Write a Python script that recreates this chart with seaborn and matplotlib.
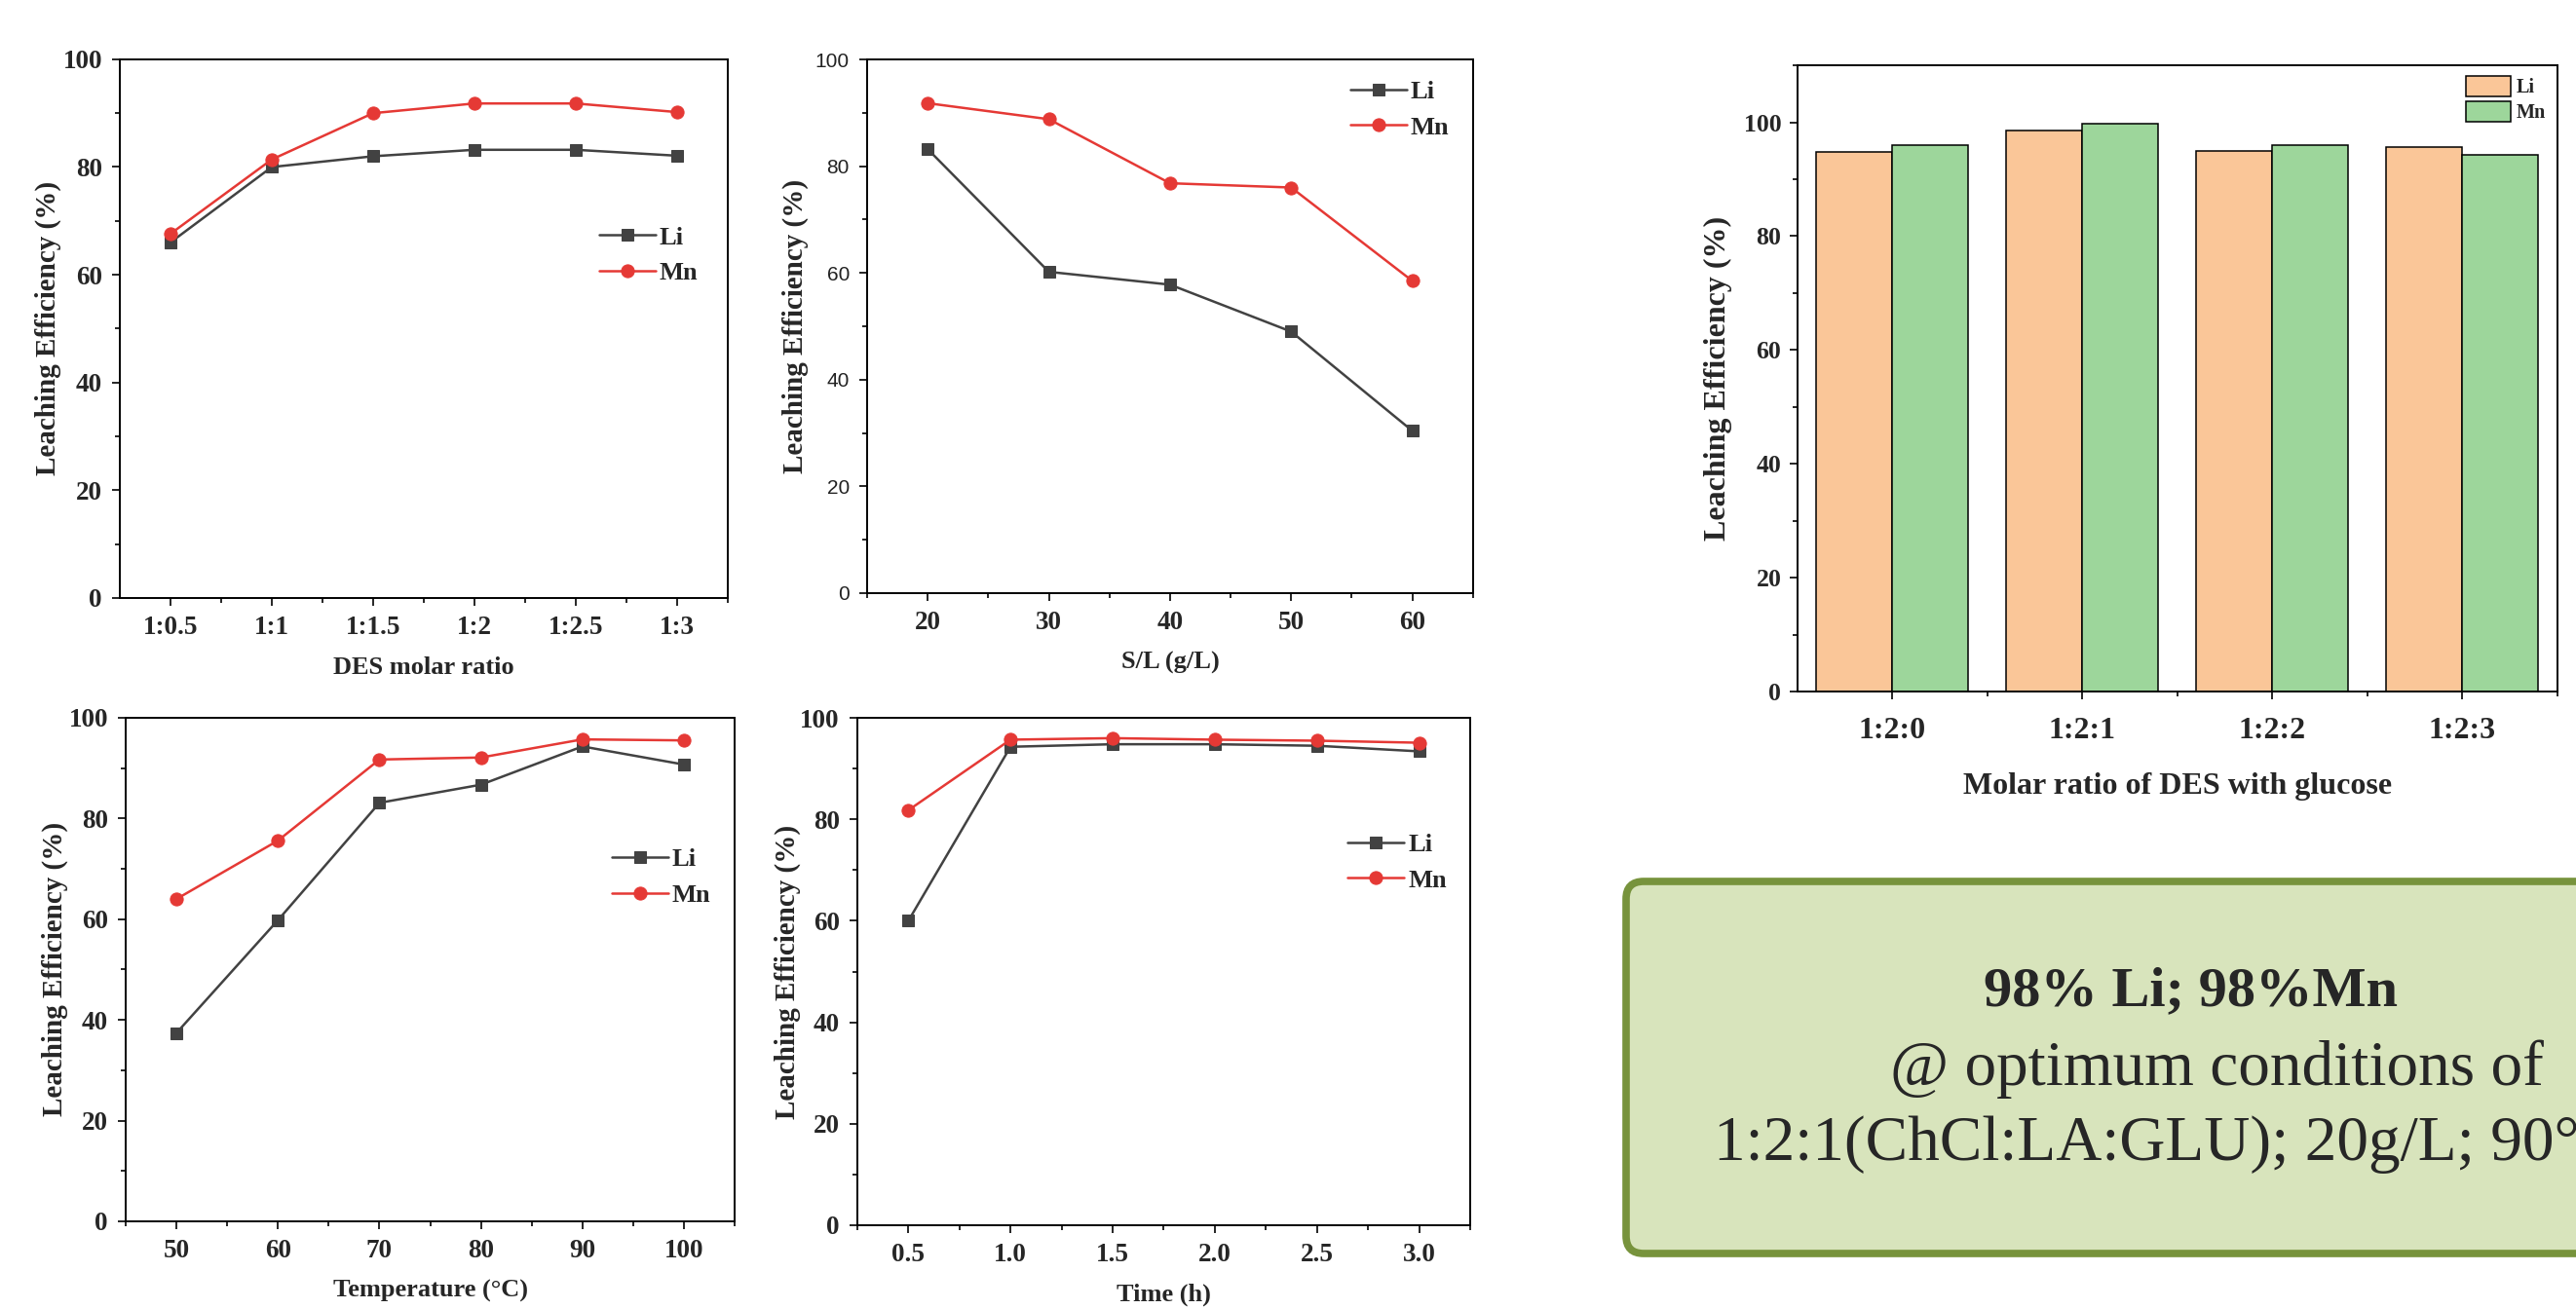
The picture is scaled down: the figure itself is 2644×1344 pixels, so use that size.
import matplotlib
matplotlib.use("Agg")
import matplotlib.pyplot as plt
import matplotlib.ticker as mticker
from matplotlib.patches import FancyBboxPatch
from matplotlib.transforms import IdentityTransform
import pandas as pd
import seaborn as sns

""" Données """
des_ratio = ["1:0.5", "1:1", "1:1.5", "1:2", "1:2.5", "1:3"]
des_li = [66.0, 80.0, 82.0, 83.2, 83.2, 82.1]
des_mn = [67.6, 81.4, 90.0, 91.8, 91.8, 90.2]

sl_ratio = [20, 30, 40, 50, 60]
sl_li = [83.2, 60.2, 57.8, 49.0, 30.4]
sl_mn = [91.8, 88.8, 76.8, 76.0, 58.5]

temperature = [50, 60, 70, 80, 90, 100]
temp_li = [37.4, 59.8, 83.1, 86.7, 94.3, 90.7]
temp_mn = [64.0, 75.6, 91.7, 92.1, 95.7, 95.5]

time_h = [0.5, 1.0, 1.5, 2.0, 2.5, 3.0]
time_li = [60.0, 94.3, 94.8, 94.8, 94.5, 93.4]
time_mn = [81.8, 95.7, 96.0, 95.7, 95.5, 95.1]

glucose_ratio = ["1:2:0", "1:2:1", "1:2:2", "1:2:3"]
glucose_li = [94.8, 98.5, 94.9, 95.6]
glucose_mn = [96.0, 99.8, 96.0, 94.2]

LI_COLOR = "#424242"
MN_COLOR = "#e53935"
BAR_COLORS = ["#fac698", "#9dd69b"]

""" Style """
sns.set_style("ticks")
plt.rcParams['font.family'] = ['Liberation Serif', 'DejaVu Serif']
plt.rcParams['font.weight'] = 'bold'
plt.rcParams['axes.labelweight'] = 'bold'
plt.rcParams['axes.linewidth'] = 1.4
plt.rcParams['axes.edgecolor'] = 'black'

fig = plt.figure(figsize=(26.44, 13.44), dpi=100)


def line_panel(rect, x, li, mn, xlabel, legend_pos, ylab_x, sans_y=False):
    ax = fig.add_axes(rect)
    sns.lineplot(x=x, y=li, ax=ax, color=LI_COLOR, marker='s', markersize=8.5,
                 markeredgecolor=LI_COLOR, linewidth=1.8, label='Li', sort=False)
    sns.lineplot(x=x, y=mn, ax=ax, color=MN_COLOR, marker='o', markersize=9.5,
                 markeredgecolor=MN_COLOR, linewidth=1.8, label='Mn', sort=False)
    ax.set_ylim(0, 100)
    ax.yaxis.set_major_locator(mticker.MultipleLocator(20))
    ax.yaxis.set_minor_locator(mticker.MultipleLocator(10))
    ax.set_xlabel(xlabel, fontsize=19, labelpad=12)
    ax.set_ylabel('Leaching Efficiency (%)', fontsize=21)
    ax.yaxis.set_label_coords(ylab_x, 0.5)
    ax.tick_params(which='both', direction='out', top=False, right=False, width=1.4)
    ax.tick_params(which='major', length=6, labelsize=19.5, pad=7)
    ax.tick_params(which='minor', length=3.5)
    for s in ax.spines.values():
        s.set_visible(True)
        s.set_linewidth(1.4)
    if sans_y:
        for lab in ax.get_yticklabels():
            lab.set_fontfamily('Liberation Sans')
            lab.set_fontweight('normal')
            lab.set_fontsize(15)
            lab.set_color('#222222')
    ax.legend(loc='center left', bbox_to_anchor=legend_pos, frameon=False,
              fontsize=19, handlelength=2.2, handletextpad=0.15,
              borderpad=0, borderaxespad=0, labelspacing=0.5)
    return ax


""" Rapport molaire DES """
ax1 = line_panel([0.0465, 0.5432, 0.2360, 0.4115], des_ratio, des_li, des_mn,
                 'DES molar ratio', (0.788, 0.636), -0.096)
ax1.set_xlim(-0.5, 5.5)
ax1.xaxis.set_minor_locator(mticker.FixedLocator([0.5, 1.5, 2.5, 3.5, 4.5, 5.5]))

""" Rapport S/L """
ax2 = line_panel([0.3366, 0.5469, 0.2352, 0.4077], sl_ratio, sl_li, sl_mn,
                 'S/L (g/L)', (0.797, 0.906), -0.096, sans_y=True)
ax2.set_xlim(15, 65)
ax2.xaxis.set_major_locator(mticker.MultipleLocator(10))
ax2.xaxis.set_minor_locator(mticker.MultipleLocator(5))

""" Température """
ax3 = line_panel([0.0488, 0.0670, 0.2364, 0.3847], temperature, temp_li, temp_mn,
                 'Temperature (°C)', (0.798, 0.683), -0.095)
ax3.set_xlim(45, 105)
ax3.xaxis.set_major_locator(mticker.MultipleLocator(10))
ax3.xaxis.set_minor_locator(mticker.MultipleLocator(5))

""" Temps """
ax4 = line_panel([0.3328, 0.0640, 0.2379, 0.3876], time_h, time_li, time_mn,
                 'Time (h)', (0.80, 0.715), -0.092)
ax4.set_xlim(0.25, 3.25)
ax4.xaxis.set_major_locator(mticker.MultipleLocator(0.5))
ax4.xaxis.set_minor_locator(mticker.MultipleLocator(0.25))
ax4.xaxis.set_major_formatter(mticker.FormatStrFormatter('%.1f'))

""" Glucose : barres """
bars = pd.DataFrame({
    'ratio': glucose_ratio * 2,
    'metal': ['Li'] * len(glucose_ratio) + ['Mn'] * len(glucose_ratio),
    'eff': glucose_li + glucose_mn,
})
ax5 = fig.add_axes([0.6978, 0.4717, 0.2950, 0.4784])
sns.barplot(data=bars, x='ratio', y='eff', hue='metal', palette=BAR_COLORS,
            saturation=1, width=0.8, gap=0, errorbar=None,
            edgecolor='black', linewidth=1.1, ax=ax5)
ax5.set_xlim(-0.5, 3.5)
ax5.set_ylim(0, 110)
ax5.yaxis.set_major_locator(mticker.MultipleLocator(20))
ax5.yaxis.set_minor_locator(mticker.MultipleLocator(10))
ax5.xaxis.set_minor_locator(mticker.FixedLocator([0.5, 1.5, 2.5, 3.5]))
ax5.set_xlabel('Molar ratio of DES with glucose', fontsize=23, labelpad=20)
ax5.set_ylabel('Leaching Efficiency (%)', fontsize=23)
ax5.yaxis.set_label_coords(-0.086, 0.5)
ax5.tick_params(which='both', direction='out', top=False, right=False, width=1.4)
ax5.tick_params(axis='y', which='major', length=6, labelsize=18.5, pad=6)
ax5.tick_params(axis='x', which='major', length=6, labelsize=23, pad=13)
ax5.tick_params(which='minor', length=3.5)
for s in ax5.spines.values():
    s.set_visible(True)
    s.set_linewidth(1.4)
ax5.legend(loc='upper right', bbox_to_anchor=(0.985, 0.983), frameon=False,
           fontsize=14.5, handlelength=2.3, handleheight=1.2, handletextpad=0.3,
           borderpad=0, borderaxespad=0, labelspacing=0.2)

""" Encadré des conditions optimales """
box = FancyBboxPatch((1669, 1344 - 1287), 1100, 1287 - 905,
                     boxstyle="round,pad=0,rounding_size=18",
                     transform=IdentityTransform(), facecolor='#d8e4bc',
                     edgecolor='#77933c', linewidth=5.5, clip_on=False)
fig.patches.append(box)
fig.text(2248 / 2644, 1 - 1018 / 1344, '98% Li; 98%Mn', fontsize=42,
         fontweight='bold', ha='center', va='center')
fig.text(2275 / 2644, 1 - 1098 / 1344, '@ optimum conditions of', fontsize=47,
         fontweight='normal', ha='center', va='center')
fig.text(1759 / 2644, 1 - 1175 / 1344, '1:2:1(ChCl:LA:GLU); 20g/L; 90°', fontsize=47,
         fontweight='normal', ha='left', va='center')

plt.savefig('out.png', dpi=100)
